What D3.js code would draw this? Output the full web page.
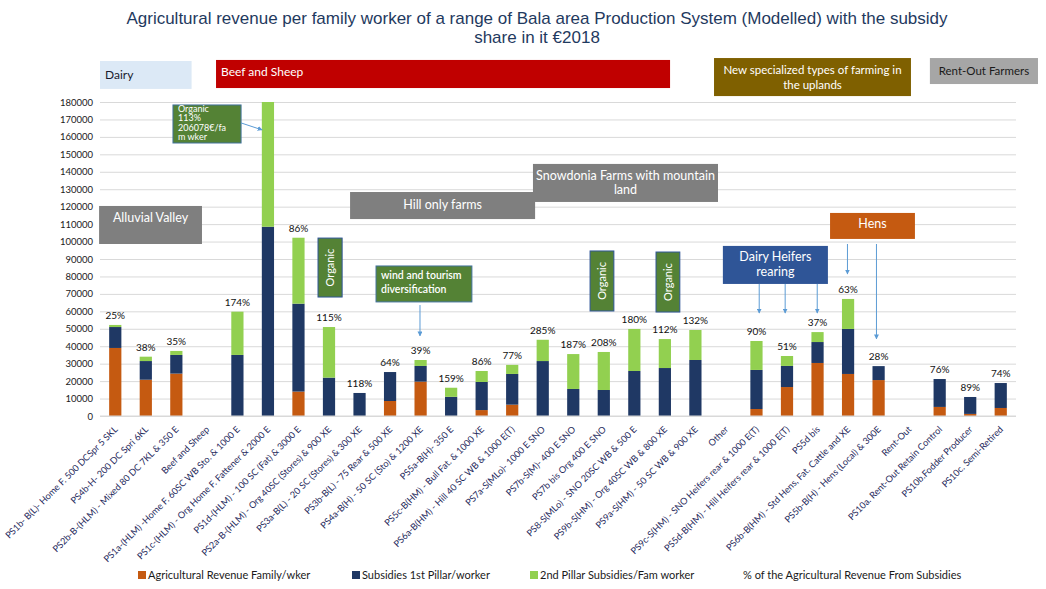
<!DOCTYPE html>
<html>
<head>
<meta charset="utf-8">
<script src="https://cdn.jsdelivr.net/npm/d3@7"></script>
<style>
  body { margin: 0; background: #fff; }
  text { font-family: Lato, "Open Sans", sans-serif; }
</style>
</head>
<body>
<svg id="chart"></svg>
<script>
// categories (production systems) and the three stacked series
const categories = [
  "PS1b- B(L)- Home F. 500 DCSpr 5 SKL",
  "PS4b-H- 200 DC Spri 6KL",
  "PS2b-B-(HLM) - Mixed 80 DC 7KL & 350 E",
  "Beef and Sheep",
  "PS1a-(HLM) -Home F. 60SC WB Sto. & 1000 E",
  "PS1c-(HLM) - Org Home F. Fattener & 2000 E",
  "PS1d-(HLM) - 100 SC (Fat) & 3000 E",
  "PS2a-B-(HLM) - Org 40SC (Stores) & 900 XE",
  "PS3a-B(L) - 20 SC (Stores) & 300 XE",
  "PS3b-B(L) - 75 Rear & 500 XE",
  "PS4a-B(H) - 50 SC (Sto) & 1200 XE",
  "PS5a-B(H)- 350 E",
  "PS5c-B(HM) - Bull Fat. & 1000 XE",
  "PS6a-B(HM) - Hill 40 SC WB & 1000 E(T)",
  "PS7a-S(MLo)- 1000 E SNO",
  "PS7b-S(M)- 400 E SNO",
  "PS7b bis Org 400 E SNO",
  "PS8-S(MLo) -  SNO 20SC WB & 500 E",
  "PS9b-S(HM) - Org 40SC WB & 800 XE",
  "PS9a-S(HM) - 50 SC WB & 900 XE",
  "Other",
  "PS9c-S(HM) -  SNO Heifers rear & 1000 E(T)",
  "PS5d-B(HM) - Hill Heifers rear & 1000 E(T)",
  "PS5d bis",
  "PS6b-B(HM) - Std Hens, Fat. Cattle and XE",
  "PS5b-B(H) - Hens (Local) & 300E",
  "Rent-Out",
  "PS10a. Rent-Out Retain Control",
  "PS10b.Fodder Producer",
  "PS10c. Semi-Retired"
];
const agriRevenue = [39000, 20800, 24300, 0, 0, 0, 14000, 0, 0, 8600, 19700, 0, 3400, 6500, 0, 0, 0, 0, 0, 0,
  0, 4000, 16600, 30400, 24100, 20600, 0, 5200, 1200, 4600];
const pillar1 = [12000, 10700, 10700, 0, 35000, 108500, 50400, 22000, 13200, 16600, 9000, 11000, 16100, 17600, 31500, 15500, 14900, 25800, 27500, 32100,
  0, 22400, 12100, 12000, 25800, 8000, 0, 16000, 9700, 14300];
const pillar2 = [1200, 2500, 2300, 0, 24800, 97578, 37800, 29000, 0, 0, 3400, 5200, 6300, 5200, 12200, 20000, 21800, 24100, 16600, 17200,
  0, 16600, 5700, 5700, 17200, 0, 0, 0, 0, 0];
const shareLabels = ["25%", "38%", "35%", null, "174%", null, "86%", "115%", "118%", "64%", "39%", "159%", "86%", "77%", "285%", "187%", "208%", "180%", "112%", "132%",
  null, "90%", "51%", "37%", "63%", "28%", null, "76%", "89%", "74%"];
const seriesNames = ["Agricultural Revenue Family/wker", "Subsidies 1st Pillar/worker", "2nd Pillar Subsidies/Fam worker"];
const yMax = 180000;
const yTicks = d3.range(0, yMax + 1, 10000);

const colors = ["#c55a11", "#1f3864", "#92d050"];

const W = 1046, H = 589;
const margin = { top: 102, left: 100, right: 30, bottom: 173 };
const width = W - margin.left - margin.right;
const height = H - margin.top - margin.bottom;

const svg = d3.select("#chart").attr("width", W).attr("height", H);

const x = d3.scaleBand().domain(categories).range([0, width]).paddingInner(0.6).paddingOuter(0.3);
const y = d3.scaleLinear().domain([0, yMax]).range([height, 0]);
// fractional category position -> pixel (used for annotations)
const ix = i => x.step() * (i + 0.5);

const g = svg.append("g").attr("transform", `translate(${margin.left},${margin.top})`);

// title
["Agricultural revenue per family worker of a range of Bala area Production System (Modelled) with the subsidy",
 "share in it €2018"].forEach((t, k) => {
  svg.append("text").attr("x", 537).attr("y", 24 + k * 19).attr("text-anchor", "middle")
    .style("font-family", "'Liberation Sans', Arial, sans-serif").style("font-size", "17px").attr("fill", "#1f3a60")
    .text(t);
});

// gridlines + y axis
const yAxis = d3.axisLeft(y).tickValues(yTicks).tickSize(-width).tickPadding(7).tickFormat(d3.format("d"));
const yAxisG = g.append("g").call(yAxis);
yAxisG.select(".domain").remove();
yAxisG.selectAll(".tick line").attr("stroke", "#d9d9d9").attr("stroke-width", 1);
yAxisG.selectAll(".tick text").attr("fill", "#1a1a1a").style("font-size", "9.5px");

// stacked bars
const rows = categories.map((c, i) => ({ cat: c, a: agriRevenue[i], p1: pillar1[i], p2: pillar2[i] }));
const stack = d3.stack().keys(["a", "p1", "p2"])(rows);

svg.append("defs").append("clipPath").attr("id", "plotclip")
  .append("rect").attr("x", 0).attr("y", 0).attr("width", width).attr("height", height);

const bars = g.append("g").attr("clip-path", "url(#plotclip)");
bars.selectAll("g.series").data(stack).join("g")
  .attr("class", "series")
  .attr("fill", (d, i) => colors[i])
  .selectAll("rect").data(d => d).join("rect")
  .attr("x", d => x(d.data.cat))
  .attr("width", x.bandwidth())
  .attr("y", d => y(d[1]))
  .attr("height", d => y(d[0]) - y(d[1]));

// baseline
g.append("line").attr("x1", 0).attr("x2", width).attr("y1", height).attr("y2", height)
  .attr("stroke", "#d9d9d9");

// share labels
g.selectAll("text.share").data(rows.filter((d, i) => shareLabels[i] !== null))
  .join("text")
  .attr("class", "share")
  .attr("x", d => x(d.cat) + x.bandwidth() / 2)
  .attr("y", d => y(d.a + d.p1 + d.p2) - 6)
  .attr("text-anchor", "middle")
  .style("font-size", "10px")
  .attr("fill", "#111")
  .text(d => shareLabels[categories.indexOf(d.cat)]);

// x labels rotated
const xAxisG = g.append("g").attr("transform", `translate(0,${height})`)
  .call(d3.axisBottom(x).tickSize(0).tickPadding(0));
xAxisG.select(".domain").remove();
xAxisG.selectAll(".tick text")
  .attr("text-anchor", "end")
  .attr("fill", "#1f2a5c")
  .style("font-size", "9.2px")
  .attr("dy", 0)
  .attr("transform", "translate(3,14) rotate(-45)");

// annotation boxes (positions given in category / value units)
const boxes = [
  { lines: ["Dairy"], i0: -0.5, i1: 2.5, v0: 203500, v1: 187500, fill: "#dce9f6", color: "#1a1a2e", align: "start", fs: 12, top: 18, lh: 14 },
  { lines: ["Beef and Sheep"], i0: 3.3, i1: 18.17, v0: 204100, v1: 188000, fill: "#c00000", color: "#fff", align: "start", fs: 12, top: 16, lh: 14 },
  { lines: ["New specialized types of farming in", "the uplands"], i0: 19.61, i1: 26.06, v0: 205200, v1: 183400, fill: "#7f6000", color: "#fff", align: "middle", fs: 11.5, top: 16, lh: 15 },
  { lines: ["Rent-Out Farmers"], i0: 26.68, i1: 30.22, v0: 205200, v1: 190300, fill: "#a6a6a6", color: "#1a1a1a", align: "middle", fs: 11.5, top: 17, lh: 14 },
  { lines: ["Alluvial Valley"], i0: -0.53, i1: 2.84, v0: 120400, v1: 98600, fill: "#7f7f7f", color: "#fff", align: "middle", fs: 12.5, top: 16, lh: 15 },
  { lines: ["Hill only farms"], i0: 7.69, i1: 13.75, v0: 128400, v1: 112900, fill: "#7f7f7f", color: "#fff", align: "middle", fs: 12.5, top: 17, lh: 15 },
  { lines: ["Snowdonia Farms with mountain", "land"], i0: 13.68, i1: 19.74, v0: 144500, v1: 122700, fill: "#7f7f7f", color: "#fff", align: "middle", fs: 12.5, top: 16, lh: 14 },
  { lines: ["Organic", "113%", "206078€/fa", "m wker"], i0: 1.89, i1: 4.12, v0: 178300, v1: 156500, fill: "#548235", color: "#fff", align: "start", fs: 9, top: 7, lh: 9.5, stroke: "#41719c" },
  { lines: ["wind and tourism", "diversification"], i0: 8.54, i1: 11.68, v0: 86000, v1: 65400, fill: "#548235", color: "#fff", align: "start", fs: 10.5, top: 13, lh: 14, stroke: "#41719c", bold: true },
  { lines: ["Dairy Heifers", "rearing"], i0: 19.9, i1: 23.34, v0: 97500, v1: 75700, fill: "#2f5597", color: "#fff", align: "middle", fs: 12.5, top: 15, lh: 15 },
  { lines: ["Hens"], i0: 23.41, i1: 26.19, v0: 116400, v1: 101500, fill: "#c55a11", color: "#fff", align: "middle", fs: 12.5, top: 15, lh: 15 },
  { lines: ["Organic"], i0: 6.64, i1: 7.43, v0: 102000, v1: 68200, fill: "#548235", color: "#fff", vertical: true, fs: 11, stroke: "#2f5597" },
  { lines: ["Organic"], i0: 15.55, i1: 16.33, v0: 94600, v1: 60200, fill: "#548235", color: "#fff", vertical: true, fs: 11, stroke: "#2f5597" },
  { lines: ["Organic"], i0: 17.71, i1: 18.49, v0: 94000, v1: 59600, fill: "#548235", color: "#fff", vertical: true, fs: 11, stroke: "#2f5597" }
];

const ann = g.append("g");
boxes.forEach(b => {
  const bx = ix(b.i0), bw = ix(b.i1) - ix(b.i0);
  const by = y(b.v0), bh = y(b.v1) - y(b.v0);
  ann.append("rect").attr("x", bx).attr("y", by).attr("width", bw).attr("height", bh)
    .attr("fill", b.fill)
    .attr("stroke", b.stroke || "none").attr("stroke-width", b.stroke ? 1 : 0);
  if (b.vertical) {
    ann.append("text")
      .attr("transform", `translate(${bx + bw / 2 + 4},${by + bh / 2}) rotate(-90)`)
      .attr("text-anchor", "middle").attr("fill", b.color)
      .style("font-size", b.fs + "px").text(b.lines[0]);
    return;
  }
  const tx = b.align === "start" ? bx + 5 : bx + bw / 2;
  b.lines.forEach((l, k) => {
    ann.append("text").attr("x", tx).attr("y", by + b.top + k * b.lh)
      .attr("text-anchor", b.align).attr("fill", b.color)
      .style("font-size", b.fs + "px")
      .style("font-weight", b.bold ? 600 : 400)
      .text(l);
  });
});

// arrows
svg.select("defs").append("marker").attr("id", "arr")
  .attr("viewBox", "0 0 10 10").attr("refX", 9).attr("refY", 5)
  .attr("markerWidth", 5).attr("markerHeight", 5).attr("orient", "auto")
  .append("path").attr("d", "M0,0L10,5L0,10z").attr("fill", "#5b9bd5");

const arrows = [
  { i0: 4.12, v0: 168000, i1: 4.81, v1: 164000 },
  { i0: 9.98, v0: 63600, i1: 9.98, v1: 45900 },
  { i0: 21.09, v0: 75700, i1: 21.09, v1: 59000 },
  { i0: 21.94, v0: 75700, i1: 21.94, v1: 59000 },
  { i0: 22.99, v0: 75700, i1: 22.99, v1: 59000 },
  { i0: 23.98, v0: 98600, i1: 23.98, v1: 81400 },
  { i0: 24.93, v0: 98600, i1: 24.93, v1: 44200 }
];
ann.selectAll("line.arrow").data(arrows).join("line")
  .attr("class", "arrow")
  .attr("x1", d => ix(d.i0)).attr("y1", d => y(d.v0))
  .attr("x2", d => ix(d.i1)).attr("y2", d => y(d.v1))
  .attr("stroke", "#5b9bd5").attr("stroke-width", 1)
  .attr("marker-end", "url(#arr)");

// legend
const legendX = [138, 352, 530, 743];
const legend = svg.append("g").attr("transform", "translate(0,579)");
seriesNames.concat(["% of the Agricultural Revenue From Subsidies"]).forEach((name, i) => {
  let tx = legendX[i];
  if (i < 3) {
    legend.append("rect").attr("x", legendX[i]).attr("y", -8).attr("width", 8).attr("height", 8).attr("fill", colors[i]);
    tx += 10;
  }
  legend.append("text").attr("x", tx).attr("y", 0).style("font-size", "11px").attr("fill", "#1a1a1a").text(name);
});
</script>
</body>
</html>
